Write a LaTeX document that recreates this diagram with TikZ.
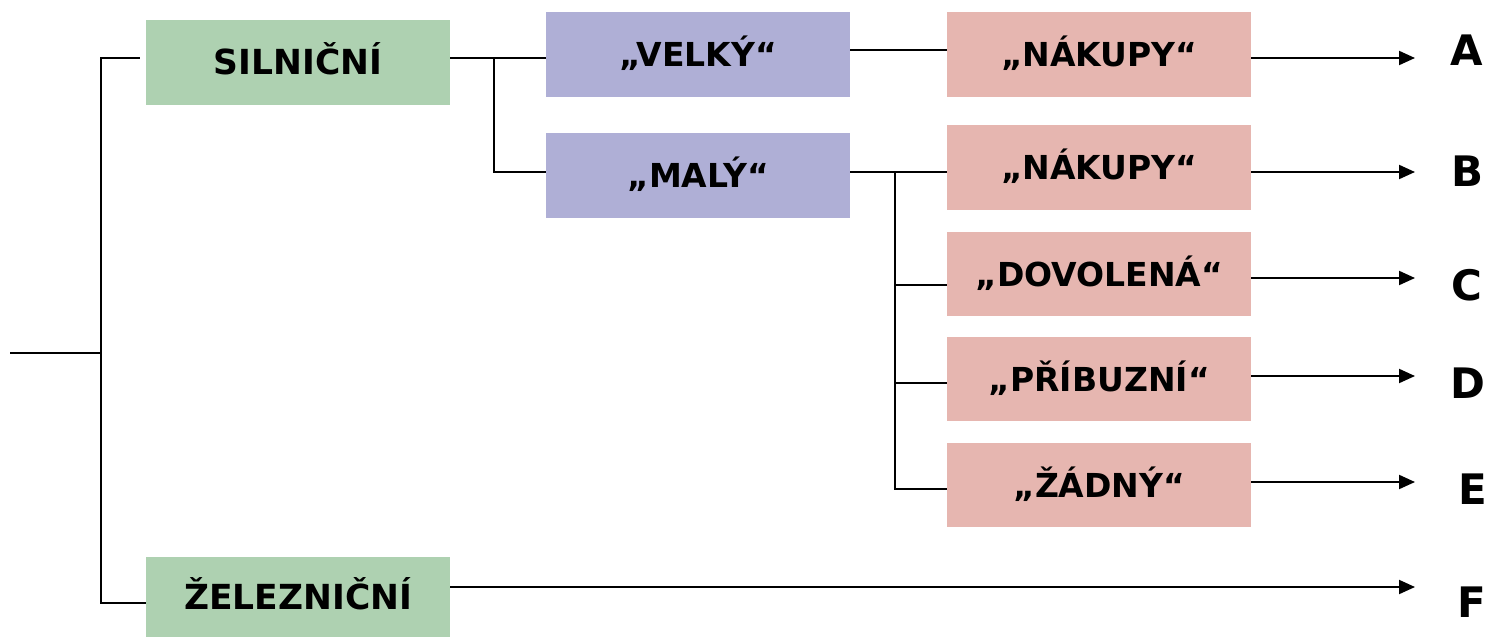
\documentclass[tikz,border=0pt]{standalone}
\usepackage{fontspec}
\setmainfont{DejaVu Sans}
\usetikzlibrary{arrows.meta}
\definecolor{boxgreen}{RGB}{174,209,177}
\definecolor{boxpurple}{RGB}{175,175,214}
\definecolor{boxpink}{RGB}{230,182,176}
\tikzset{
  box/.style={draw=none, rectangle, anchor=north west, minimum width=304pt,
    minimum height=85pt, inner sep=0pt, font=\fontsize{33}{39}\selectfont\bfseries,
    text height=24pt, text depth=0pt},
  gbox/.style={box, fill=boxgreen, font=\fontsize{34.5}{40}\selectfont\bfseries},
  pbox/.style={box, fill=boxpurple},
  rbox/.style={box, fill=boxpink},
  letter/.style={inner sep=0pt, font=\fontsize{42}{48}\selectfont\bfseries},
  conn/.style={line width=2pt, black},
  arr/.style={conn, -{Triangle[length=16pt,width=14pt]}}
}
\begin{document}
\begin{tikzpicture}[x=1pt,y=-1pt]
\useasboundingbox (0,0) rectangle (1488,637);
% boxes
\node[gbox] (sil) at (146,20) {SILNIČNÍ};
\node[gbox, minimum height=80pt] (zel) at (146,557) {ŽELEZNIČNÍ};
\node[pbox] (vel) at (546,12) {„VELKÝ“};
\node[pbox] (mal) at (546,133) {„MALÝ“};
\node[rbox] (n1) at (947,12) {„NÁKUPY“};
\node[rbox] (n2) at (947,125) {„NÁKUPY“};
\node[rbox, minimum height=84pt] (dov) at (947,232) {„DOVOLENÁ“};
\node[rbox, minimum height=84pt] (pri) at (947,337) {„PŘÍBUZNÍ“};
\node[rbox, minimum height=84pt] (zad) at (947,443) {„ŽÁDNÝ“};
% letters
\node[letter] (A) at (1467,50) {A};
\node[letter] (B) at (1467,171) {B};
\node[letter] (C) at (1467,285) {C};
\node[letter] (D) at (1468,383) {D};
\node[letter] (E) at (1473,489) {E};
\node[letter] (F) at (1472,602) {F};
% junction coordinates
\coordinate (root) at (10,353);
\coordinate (trunk) at (101,353);
\coordinate (j2) at (494,58);
\coordinate (j3) at (895,172);
\coordinate (jv) at (850,50);
\coordinate (jd) at (895,285);
\coordinate (jp) at (895,383);
\coordinate (jz) at (895,489);
\coordinate (jf) at (101,603);
\coordinate (tA) at (1415,58);
\coordinate (tB) at (1415,172);
\coordinate (tC) at (1415,278);
\coordinate (tD) at (1415,376);
\coordinate (tE) at (1415,482);
\coordinate (tF) at (1415,587);
% tree connectors
\draw[conn] (root) -- (trunk);
\draw[conn, shorten >=6pt] (trunk) |- (sil.west |- j2);
\draw[conn] (trunk) |- (zel.west |- jf);
\draw[conn] (sil.east |- j2) -- (vel.west |- j2);
\draw[conn] (j2) |- (mal.west |- j3);
\draw[conn] (vel.east |- jv) -- (n1.west |- jv);
\draw[conn] (mal.east |- j3) -- (n2.west |- j3);
\draw[conn] (j3) |- (dov.west |- jd);
\draw[conn] (j3) |- (pri.west |- jp);
\draw[conn] (j3) |- (zad.west |- jz);
% arrows
\draw[arr] (n1.east |- tA) -- (tA);
\draw[arr] (n2.east |- tB) -- (tB);
\draw[arr] (dov.east |- tC) -- (tC);
\draw[arr] (pri.east |- tD) -- (tD);
\draw[arr] (zad.east |- tE) -- (tE);
\draw[arr] (zel.east |- tF) -- (tF);
\end{tikzpicture}
\end{document}
